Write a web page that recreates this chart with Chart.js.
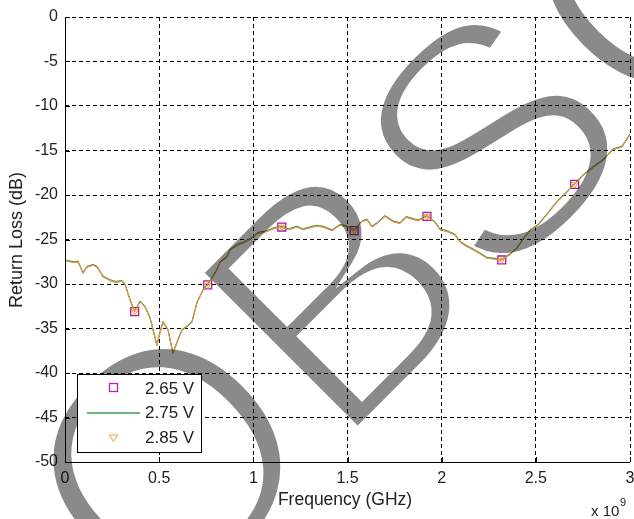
<!DOCTYPE html>
<html>
<head>
<meta charset="utf-8">
<script src="https://cdn.jsdelivr.net/npm/chart.js@4.4.1/dist/chart.umd.min.js"></script>
<style>
  html, body { margin: 0; padding: 0; background: #fff; }
  #wrap { width: 634px; height: 519px; }
</style>
</head>
<body>
<div id="wrap"><canvas id="rlchart"></canvas></div>
<script>
// frequency sweep (GHz, axis shows x 10^9)
const freq = [0, 0.027, 0.053, 0.069, 0.096, 0.117, 0.149, 0.170, 0.202, 0.239,
  0.265, 0.303, 0.319, 0.345, 0.370, 0.398, 0.425, 0.451, 0.488, 0.504,
  0.520, 0.547, 0.573, 0.600, 0.621, 0.648, 0.674, 0.701, 0.733, 0.758,
  0.807, 0.823, 0.860, 0.876, 0.919, 0.945, 0.982, 1.025, 1.073, 1.104,
  1.151, 1.184, 1.232, 1.264, 1.312, 1.338, 1.370, 1.418, 1.460, 1.503,
  1.535, 1.577, 1.604, 1.630, 1.657, 1.699, 1.742, 1.779, 1.811, 1.842,
  1.874, 1.922, 1.965, 1.991, 2.028, 2.071, 2.097, 2.135, 2.188, 2.241,
  2.283, 2.319, 2.363, 2.400, 2.432, 2.469, 2.512, 2.559, 2.612, 2.665,
  2.706, 2.751, 2.804, 2.857, 2.910, 2.958, 3.000];

// return loss (dB) per supply voltage
const rl265 = [-27.4, -27.5, -27.6, -27.5, -28.8, -28.1, -27.9, -28.1, -29.2, -29.6,
  -29.8, -29.7, -30.1, -31.8, -33.1, -32.0, -32.6, -33.8, -36.9, -35.5,
  -34.3, -35.2, -37.8, -36.3, -35.2, -34.8, -34.3, -32.1, -30.7, -30.1,
  -28.4, -27.6, -27.0, -26.2, -25.6, -25.4, -25.0, -24.3, -24.1, -23.8,
  -23.6, -23.9, -23.6, -23.9, -23.6, -23.5, -23.6, -24.0, -23.4, -23.6,
  -24.0, -23.0, -22.8, -23.6, -23.2, -22.4, -23.0, -23.2, -22.5, -22.7,
  -22.9, -22.4, -23.1, -23.9, -24.1, -24.5, -25.3, -25.8, -26.4, -27.1,
  -27.2, -27.3, -26.7, -26.0, -25.0, -24.0, -23.4, -22.2, -20.8, -19.7,
  -18.8, -17.8, -16.9, -16.1, -14.9, -14.6, -13.2];
const rl275 = [-27.3, -27.4, -27.5, -27.4, -28.7, -28.0, -27.8, -28.0, -29.1, -29.5,
  -29.7, -29.6, -30.0, -31.7, -33.0, -31.9, -32.5, -33.7, -36.8, -35.4,
  -34.2, -35.1, -37.7, -36.2, -35.1, -34.7, -34.2, -32.0, -30.6, -30.0,
  -28.3, -27.5, -26.9, -26.1, -25.5, -25.3, -24.9, -24.2, -24.0, -23.7,
  -23.5, -23.8, -23.5, -23.8, -23.5, -23.4, -23.5, -23.9, -23.3, -23.5,
  -23.9, -22.9, -22.7, -23.5, -23.1, -22.3, -22.9, -23.1, -22.4, -22.6,
  -22.8, -22.3, -23.0, -23.8, -24.0, -24.4, -25.2, -25.7, -26.3, -27.0,
  -27.1, -27.2, -26.6, -25.9, -24.9, -23.9, -23.3, -22.1, -20.7, -19.6,
  -18.7, -17.7, -16.8, -16.0, -14.8, -14.5, -13.1];
const rl285 = [-27.4, -27.5, -27.6, -27.5, -28.8, -28.1, -27.9, -28.1, -29.2, -29.6,
  -29.8, -29.7, -30.1, -31.8, -33.1, -32.0, -32.6, -33.8, -36.9, -35.5,
  -34.3, -35.2, -37.8, -36.3, -35.2, -34.8, -34.3, -32.1, -30.7, -30.1,
  -28.4, -27.6, -27.0, -26.2, -25.6, -25.4, -25.0, -24.3, -24.1, -23.8,
  -23.6, -23.9, -23.6, -23.9, -23.6, -23.5, -23.6, -24.0, -23.4, -23.6,
  -24.0, -23.0, -22.8, -23.6, -23.2, -22.4, -23.0, -23.2, -22.5, -22.7,
  -22.9, -22.4, -23.1, -23.9, -24.1, -24.5, -25.3, -25.8, -26.4, -27.1,
  -27.2, -27.3, -26.7, -26.0, -25.0, -24.0, -23.4, -22.2, -20.8, -19.7,
  -18.8, -17.8, -16.9, -16.1, -14.9, -14.6, -13.2];

// frequencies that carry a marker
const markerFreq = [0.370, 0.758, 1.151, 1.535, 1.922, 2.319, 2.706];
const seriesNames = ['2.65 V', '2.75 V', '2.85 V'];
const xTicks = [0, 0.5, 1, 1.5, 2, 2.5, 3];
const yTicks = [0, -5, -10, -15, -20, -25, -30, -35, -40, -45, -50];

const MAG = '#b4139e';
const GRN = '#3f9a55';
const ORG = '#f2a033';
const FONT = '"Liberation Sans", Arial, sans-serif';

function pts(ys) {
  return freq.map((f, i) => ({ x: f, y: ys[i] }));
}
function markerRadius(r) {
  return ctx => markerFreq.includes(ctx.raw.x) ? r : 0;
}

// big grey stamp, thinned by eating into the glyph edges
function stampCanvas(w, h) {
  const off = document.createElement('canvas');
  off.width = w;
  off.height = h;
  const o = off.getContext('2d');
  o.translate(157, 634);
  o.rotate(-45 * Math.PI / 180);
  o.font = '330px ' + FONT;
  o.fillStyle = '#8a8a8a';
  o.fillText('OBSOLETE', 0, 0);
  o.globalCompositeOperation = 'destination-out';
  o.lineWidth = 11;
  o.lineJoin = 'miter';
  o.strokeText('OBSOLETE', 0, 0);
  return off;
}

const overlay = {
  id: 'overlay',
  beforeDraw(chart) {
    const c = chart.ctx;
    c.save();
    c.fillStyle = '#fff';
    c.fillRect(0, 0, chart.width, chart.height);
    c.restore();
  },
  afterDatasetsDraw(chart) {
    const c = chart.ctx;
    const { left, right, top, bottom } = chart.chartArea;
    c.save();
    // solid axis lines + inward ticks
    c.strokeStyle = '#000';
    c.lineWidth = 1;
    c.setLineDash([]);
    c.beginPath();
    c.moveTo(left + 0.5, top);
    c.lineTo(left + 0.5, bottom + 0.5);
    c.lineTo(right, bottom + 0.5);
    chart.scales.x.ticks.forEach(t => {
      const px = Math.round(chart.scales.x.getPixelForValue(t.value)) + 0.5;
      c.moveTo(px, bottom);
      c.lineTo(px, bottom - 5);
    });
    chart.scales.y.ticks.forEach(t => {
      const py = Math.round(chart.scales.y.getPixelForValue(t.value)) + 0.5;
      c.moveTo(left, py);
      c.lineTo(left + 5, py);
    });
    c.stroke();

    c.globalCompositeOperation = 'multiply';
    c.drawImage(stampCanvas(chart.width, chart.height), 0, 0);
    c.restore();
  },
  afterDraw(chart) {
    const c = chart.ctx;
    c.save();
    c.fillStyle = '#222';
    c.font = '17.5px ' + FONT;
    c.textAlign = 'center';
    c.textBaseline = 'middle';
    c.fillText('Frequency (GHz)', 345, 500);
    c.save();
    c.translate(17, 240);
    c.rotate(-Math.PI / 2);
    c.font = '18px ' + FONT;
    c.fillText('Return Loss (dB)', 0, 0);
    c.restore();
    c.textAlign = 'left';
    c.font = '15px ' + FONT;
    c.fillText('x 10', 591, 512);
    c.font = '11px ' + FONT;
    c.fillText('9', 620, 503);

    // legend box
    c.fillStyle = '#fff';
    c.fillRect(77, 374, 124, 78);
    c.strokeStyle = '#000';
    c.lineWidth = 1;
    c.strokeRect(77.5, 374.5, 124, 78);
    c.fillStyle = '#222';
    c.font = '17px ' + FONT;
    const rowsY = [389, 413, 438];
    seriesNames.forEach((n, i) => c.fillText(n, 145, rowsY[i]));
    c.strokeStyle = '#c020b0';
    c.lineWidth = 1.3;
    c.strokeRect(109.5, 383.5, 8, 8);
    c.strokeStyle = GRN;
    c.lineWidth = 1.5;
    c.beginPath();
    c.moveTo(87, 413);
    c.lineTo(140, 413);
    c.stroke();
    c.strokeStyle = ORG;
    c.lineWidth = 1;
    c.beginPath();
    c.moveTo(109.5, 435);
    c.lineTo(117.5, 435);
    c.lineTo(113.5, 441.5);
    c.closePath();
    c.stroke();
    c.restore();
  }
};

new Chart(document.getElementById('rlchart'), {
  type: 'line',
  data: {
    datasets: [
      {
        label: seriesNames[0], data: pts(rl265), order: 3,
        borderColor: '#a2205e', borderWidth: 1,
        pointStyle: 'rect', pointRadius: markerRadius(5.6),
        pointBorderColor: MAG, pointBackgroundColor: 'rgba(0,0,0,0)', pointBorderWidth: 1.3
      },
      {
        label: seriesNames[1], data: pts(rl275), order: 2,
        borderColor: GRN, borderWidth: 1, pointRadius: 0
      },
      {
        label: seriesNames[2], data: pts(rl285), order: 1,
        borderColor: ORG, borderWidth: 1,
        pointStyle: 'triangle', rotation: 180, pointRadius: markerRadius(3.6),
        pointBorderColor: ORG, pointBackgroundColor: 'rgba(0,0,0,0)', pointBorderWidth: 1
      }
    ]
  },
  options: {
    responsive: true,
    maintainAspectRatio: false,
    animation: false,
    layout: { padding: { top: 17, right: 4, left: 0, bottom: 0 } },
    plugins: { legend: { display: false }, tooltip: { enabled: false } },
    elements: { line: { tension: 0 } },
    scales: {
      x: {
        type: 'linear', min: 0, max: 3,
        afterBuildTicks: ax => { ax.ticks = xTicks.map(v => ({ value: v })); },
        afterFit: ax => { ax.height = 57; ax.paddingLeft = 0; ax.paddingRight = 0; },
        grid: { color: '#000', lineWidth: 1, drawTicks: false },
        border: { display: false, dash: [4, 3] },
        ticks: { color: '#222', font: { family: FONT, size: 16 }, padding: 7, maxRotation: 0,
          callback: v => String(v) }
      },
      y: {
        type: 'linear', min: -50, max: 0,
        afterBuildTicks: ax => { ax.ticks = yTicks.map(v => ({ value: v })); },
        afterFit: ax => { ax.width = 65; ax.paddingTop = 0; ax.paddingBottom = 0; },
        grid: { color: '#000', lineWidth: 1, drawTicks: false },
        border: { display: false, dash: [4, 3] },
        ticks: { color: '#222', font: { family: FONT, size: 16 }, padding: 7,
          callback: v => String(v) }
      }
    }
  },
  plugins: [overlay]
});
</script>
</body>
</html>
